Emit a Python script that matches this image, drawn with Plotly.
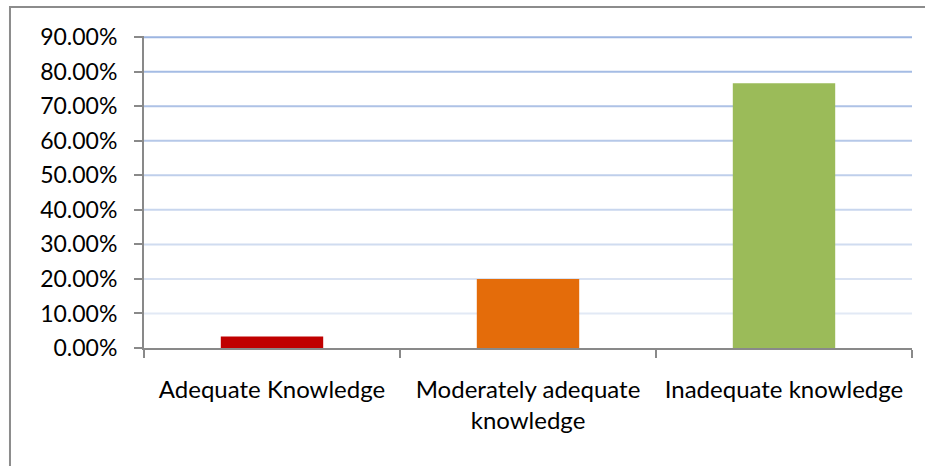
import plotly.graph_objects as go

categories = ["Adequate Knowledge", "Moderately adequate<br>knowledge", "Inadequate knowledge"]
values = [0.0333, 0.20, 0.7667]
bar_colors = ["#C00000", "#E46C0A", "#9BBB59"]
tick_vals = [0, 0.1, 0.2, 0.3, 0.4, 0.5, 0.6, 0.7, 0.8, 0.9]
tick_text = ["0.00%", "10.00%", "20.00%", "30.00%", "40.00%", "50.00%", "60.00%", "70.00%", "80.00%", "90.00%"]

FONT = "Lato"
AX = "#898989"

fig = go.Figure()
fig.add_trace(go.Bar(x=categories, y=values, marker=dict(color=bar_colors, line=dict(width=0)),
                     width=0.4, hoverinfo="x+y"))

def lerp(c1, c2, t):
    a = [int(c1[i:i+2], 16) for i in (1, 3, 5)]
    b = [int(c2[i:i+2], 16) for i in (1, 3, 5)]
    return "#" + "".join(f"{round(a[k] + (b[k]-a[k])*t):02X}" for k in range(3))

shapes = []
for v in tick_vals[1:]:
    t = (v - 0.1) / 0.8
    col = lerp("#E2E9F5", "#9CB5E1", t)
    shapes.append(dict(type="line", xref="paper", yref="y", x0=0, x1=1, y0=v, y1=v,
                       line=dict(color=col, width=2), layer="below"))
# outer chart frame
shapes.append(dict(type="rect", xref="paper", yref="paper", x0=-0.1745, x1=2, y0=-2, y1=1.0928,
                   line=dict(color="#8C8C8C", width=2), fillcolor="rgba(0,0,0,0)", layer="below"))

fig.update_layout(
    width=925, height=466,
    margin=dict(l=144, r=13, t=36, b=117.5),
    paper_bgcolor="white", plot_bgcolor="white",
    showlegend=False,
    bargap=0.6,
    shapes=shapes,
    font=dict(family=FONT, size=23, color="#000000"),
    xaxis=dict(showgrid=False, showline=True, linecolor=AX, linewidth=2,
               ticks="outside", ticklen=8, tickcolor=AX, tickwidth=2,
               tickson="boundaries", ticklabelstandoff=19,
               tickfont=dict(family=FONT, size=24, color="#000000"),
               range=[-0.5, 2.5]),
    yaxis=dict(range=[0, 0.9035], tickvals=tick_vals, ticktext=tick_text,
               showgrid=False, showline=True, linecolor=AX, linewidth=2,
               ticks="outside", ticklen=8, tickcolor=AX, tickwidth=2,
               ticklabelstandoff=12,
               tickfont=dict(family=FONT, size=23, color="#000000"),
               zeroline=False),
)

fig.write_html("out.html")
